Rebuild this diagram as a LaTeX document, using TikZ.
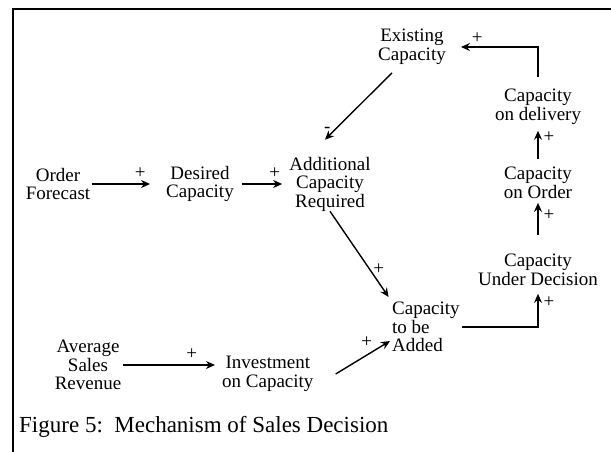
\documentclass[tikz,border=0pt]{standalone}
\usepackage{fontspec}
\setmainfont{Liberation Serif}
\usetikzlibrary{calc,arrows.meta}

\tikzset{
  var/.style={align=center, inner sep=0pt, font=\fontsize{19}{18.5}\selectfont},
  lien/.style={->, line width=1.4pt},
  signe/.style={inner sep=1pt, font=\fontsize{19}{19}\selectfont}
}

\begin{document}
\begin{tikzpicture}[x=1pt,y=-1pt,>={Stealth[length=9pt,width=8pt]}]
  \useasboundingbox (0,0) rectangle (611,452);

  % Cadre de la figure
  \draw[line width=1.3pt] (13,452) -- (13,9) -- (611,9);

  % Variables du modèle
  \node[var] (order)   at (58,184)  {Order\\Forecast};
  \node[var] (desired) at (200,184) {Desired\\Capacity};
  \node[var] (addl)    at (330,184) {Additional\\Capacity\\Required};
  \node[var] (exist)   at (412,47)  {Existing\\Capacity};
  \node[var] (cdel)    at (538,107) {Capacity\\on delivery};
  \node[var] (corder)  at (538,183) {Capacity\\on Order};
  \node[var] (cud)     at (538,270) {Capacity\\Under Decision};
  \node[var, align=left, anchor=west] (added) at (392,327) {Capacity\\to be\\Added};
  \node[var] (avg)     at (88,365)  {Average\\Sales\\Revenue};
  \node[var, anchor=west] (invest) at (222,374) {Investment\\on Capacity};

  % Liens de causalité
  \draw[lien, shorten <=2pt, shorten >=16pt] (order) -- node[signe, above=4pt, pos=0.66] (s1) {+} (desired);
  \draw[lien, shorten <=8pt, shorten >=7pt] (desired) -- node[signe, above=4pt, pos=0.74] (s2) {+} (addl);
  \draw[lien] ($(exist.south)+(-20,8)$) -- node[signe, left=3pt, pos=0.85] (s3) {-} ($(addl.north)+(-5,-17)$);
  \draw[lien, shorten >=6pt] (addl.south) -- node[signe, right=2pt, pos=0.64] (s4) {+} (added.north west);
  \draw[lien, shorten <=2pt, shorten >=7pt] (avg.east) -- node[signe, above=4pt, pos=0.7] (s5) {+} (avg.east -| invest.west);
  \draw[lien] ($(invest.east)+(22,0)$) -- node[signe, above left=1pt, pos=0.72] (s6) {+} ($(added.west)+(-2,14)$);

  % Boucle des capacités
  \draw[lien, shorten <=2pt, shorten >=8pt] (added.east) -| node[signe, right=4pt, pos=0.8] (s7) {+} (cud.south);
  \draw[lien, shorten <=19pt, shorten >=4pt] (cud.north) -- node[signe, right=4pt, pos=0.7] (s8) {+} (corder.south);
  \draw[lien, shorten <=8pt, shorten >=6pt] (corder.north) -- node[signe, right=4pt, pos=0.7] (s9) {+} (cdel.south);
  \draw[lien, shorten <=12pt, shorten >=15pt] (cdel.north) |- node[signe, above=2pt, pos=0.83] (s10) {+} (exist.east);

  % Légende
  \node[anchor=base west, inner sep=0pt, font=\fontsize{23}{23}\selectfont] (legende) at (19,432) {Figure 5:\ \ Mechanism of Sales Decision};
\end{tikzpicture}
\end{document}
